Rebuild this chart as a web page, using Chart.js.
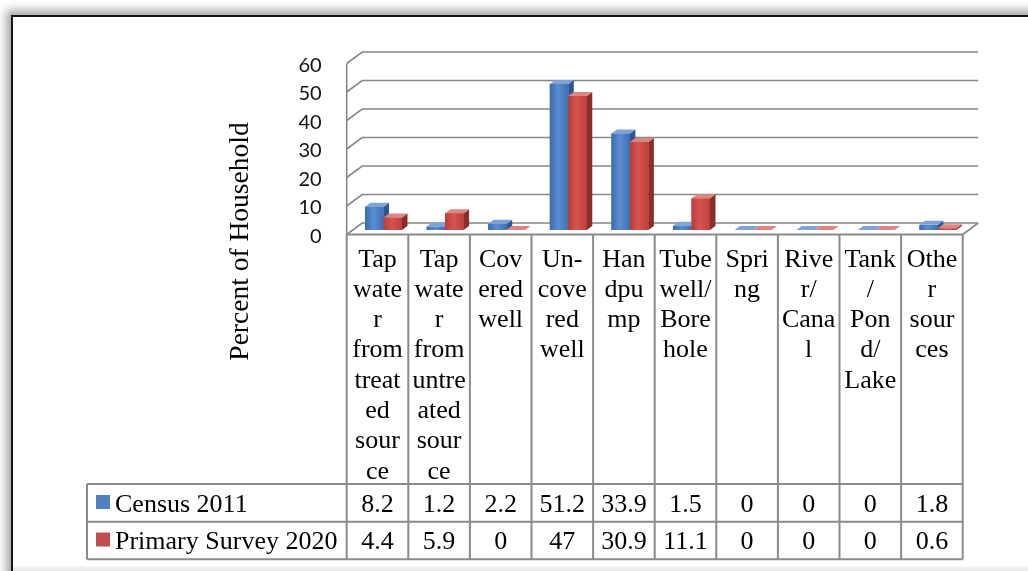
<!DOCTYPE html>
<html><head><meta charset="utf-8">
<script src="https://cdn.jsdelivr.net/npm/chart.js@4.4.1/dist/chart.umd.min.js"></script>
<style>
html,body{margin:0;padding:0;background:#fff;width:1028px;height:571px;overflow:hidden;}
#wrap{position:relative;width:1028px;height:571px;background:#fff;}
canvas{position:absolute;left:0;top:0;}
#frame{position:absolute;left:11px;top:15px;width:1100px;height:620px;border:2px solid #141414;box-shadow:-4px -4px 9px 1px rgba(0,0,0,0.35);pointer-events:none;}
#btm{position:absolute;left:13px;top:566px;width:1015px;height:5px;background:linear-gradient(#f7f7f7,#e6e6e6);pointer-events:none;}
</style></head>
<body><div id="wrap"><canvas id="c" width="1028" height="571"></canvas><div id="btm"></div><div id="frame"></div></div>
<script>
const categories = [
  ["Tap","wate","r","from","treat","ed","sour","ce"],
  ["Tap","wate","r","from","untre","ated","sour","ce"],
  ["Cov","ered","well"],
  ["Un-","cove","red","well"],
  ["Han","dpu","mp"],
  ["Tube","well/","Bore","hole"],
  ["Spri","ng"],
  ["Rive","r/","Cana","l"],
  ["Tank","/","Pon","d/","Lake"],
  ["Othe","r","sour","ces"]
];
const census2011 = [8.2, 1.2, 2.2, 51.2, 33.9, 1.5, 0, 0, 0, 1.8];
const survey2020 = [4.4, 5.9, 0, 47, 30.9, 11.1, 0, 0, 0, 0.6];
const seriesNames = ["Census 2011", "Primary Survey 2020"];
const yTicks = [0, 10, 20, 30, 40, 50, 60];
const yTitle = "Percent of Household";

const SERIF = "'Liberation Serif', 'Times New Roman', serif";
const WALL = {x: 15.5, y: -11.5};
const SHIFT = {x: 6, y: -4.5};
const BDEPTH = {x: 5.5, y: -4};
const PAL = [
  {flat:'#4F81BD', f0:'#3B6BAE', f1:'#5A8DD2', f2:'#3F70B3', side:'#2E5791', top:'#7DA3DA', sw:'#4F81BD'},
  {flat:'#C0504D', f0:'#B93C38', f1:'#D65450', f2:'#BD3F3B', side:'#8C2D2A', top:'#DE8581', sw:'#C0504D'}
];
const series = [census2011, survey2020];

const threeD = {
  id: 'threeD',
  beforeDatasetsDraw(chart) {
    const ctx = chart.ctx, ca = chart.chartArea, ys = chart.scales.y;
    ctx.save();
    ctx.strokeStyle = '#878787';
    ctx.lineWidth = 1.6;
    yTicks.forEach(v => {
      const y = ys.getPixelForValue(v);
      ctx.beginPath();
      ctx.moveTo(ca.left, y);
      ctx.lineTo(ca.left + WALL.x, y + WALL.y);
      ctx.lineTo(ca.right + WALL.x, y + WALL.y);
      ctx.stroke();
    });
    ctx.beginPath();
    ctx.moveTo(ca.left, ys.getPixelForValue(yTicks[yTicks.length - 1]));
    ctx.lineTo(ca.left, ca.bottom);
    ctx.moveTo(ca.right, ca.bottom);
    ctx.lineTo(ca.right + WALL.x, ca.bottom + WALL.y);
    ctx.stroke();
    ctx.restore();
    ctx.save();
    ctx.translate(SHIFT.x, SHIFT.y);
  },
  afterDatasetsDraw(chart) {
    const ctx = chart.ctx;
    const metas = [chart.getDatasetMeta(0), chart.getDatasetMeta(1)];
    for (let i = 0; i < categories.length; i++) {
      metas.forEach((meta, d) => {
        const c = PAL[d];
        const el = meta.data[i];
        const p = el.getProps(['x', 'y', 'base', 'width'], true);
        const l = p.x - p.width / 2, r = p.x + p.width / 2;
        const top = Math.min(p.y, p.base), base = Math.max(p.y, p.base);
        const g = ctx.createLinearGradient(l, 0, r, 0);
        g.addColorStop(0, c.f0); g.addColorStop(0.45, c.f1); g.addColorStop(1, c.f2);
        ctx.fillStyle = g;
        ctx.fillRect(l, top, r - l, base - top);
        ctx.fillStyle = c.side;
        ctx.beginPath();
        ctx.moveTo(r, top); ctx.lineTo(r + BDEPTH.x, top + BDEPTH.y);
        ctx.lineTo(r + BDEPTH.x, base + BDEPTH.y); ctx.lineTo(r, base);
        ctx.closePath(); ctx.fill();
        ctx.fillStyle = c.top;
        ctx.beginPath();
        ctx.moveTo(l, top); ctx.lineTo(r, top);
        ctx.lineTo(r + BDEPTH.x, top + BDEPTH.y); ctx.lineTo(l + BDEPTH.x, top + BDEPTH.y);
        ctx.closePath(); ctx.fill();
      });
    }
    ctx.restore();
  },
  afterDraw(chart) {
    const ctx = chart.ctx, ca = chart.chartArea, xs = chart.scales.x;
    const step = (ca.right - ca.left) / categories.length;
    const rowA = 484, rowB = 521.7, rowC = 559.3, legLeft = 87;
    ctx.save();
    ctx.strokeStyle = '#8a8a8a';
    ctx.lineWidth = 2;
    ctx.beginPath();
    ctx.moveTo(ca.left, ca.bottom); ctx.lineTo(ca.right, ca.bottom);
    [rowA, rowB, rowC].forEach(y => { ctx.moveTo(legLeft, y); ctx.lineTo(ca.right, y); });
    for (let i = 0; i <= categories.length; i++) {
      const x = ca.left + i * step;
      ctx.moveTo(x, ca.bottom); ctx.lineTo(x, rowC);
    }
    ctx.moveTo(legLeft, rowA); ctx.lineTo(legLeft, rowC);
    ctx.stroke();
    ctx.fillStyle = '#000';
    ctx.font = '26px ' + SERIF;
    ctx.textAlign = 'center';
    ctx.textBaseline = 'alphabetic';
    categories.forEach((lines, i) => {
      const cx = xs.getPixelForValue(i);
      lines.forEach((t, k) => ctx.fillText(t, cx, ca.bottom + 32 + k * 30.3));
    });
    const baselines = [511.5, 549];
    series.forEach((vals, d) => {
      vals.forEach((v, i) => ctx.fillText(String(v), xs.getPixelForValue(i), baselines[d]));
    });
    ctx.textAlign = 'left';
    seriesNames.forEach((n, d) => {
      ctx.fillStyle = PAL[d].sw;
      ctx.fillRect(96, baselines[d] - 16.5, 14, 14);
      ctx.fillStyle = '#000';
      ctx.fillText(n, 115, baselines[d]);
    });
    ctx.translate(241, 241.5);
    ctx.rotate(-Math.PI / 2);
    ctx.textAlign = 'center';
    ctx.textBaseline = 'middle';
    ctx.font = '27.5px ' + SERIF;
    ctx.fillText(yTitle, 0, 0);
    ctx.restore();
  }
};

new Chart(document.getElementById('c'), {
  type: 'bar',
  data: {
    labels: categories,
    datasets: [
      {label: seriesNames[0], data: census2011, backgroundColor: PAL[0].flat, clip: false},
      {label: seriesNames[1], data: survey2020, backgroundColor: PAL[1].flat, clip: false}
    ]
  },
  options: {
    responsive: false,
    animation: false,
    devicePixelRatio: 1,
    layout: {padding: {left: 0, top: 63.5, right: 65.3, bottom: 336.5}},
    datasets: {bar: {categoryPercentage: 0.6, barPercentage: 1}},
    plugins: {legend: {display: false}, tooltip: {enabled: false}},
    scales: {
      x: {display: false, offset: true},
      y: {
        min: 0, max: 60,
        afterBuildTicks: s => { s.ticks = yTicks.map(v => ({value: v})); },
        afterFit: s => { s.width = 346.7; },
        ticks: {font: {family: 'Lato', size: 20}, color: '#111', padding: 25, labelOffset: 2},
        grid: {display: false, drawTicks: false, tickLength: 0},
        border: {display: false}
      }
    }
  },
  plugins: [threeD]
});
</script>
</body></html>
